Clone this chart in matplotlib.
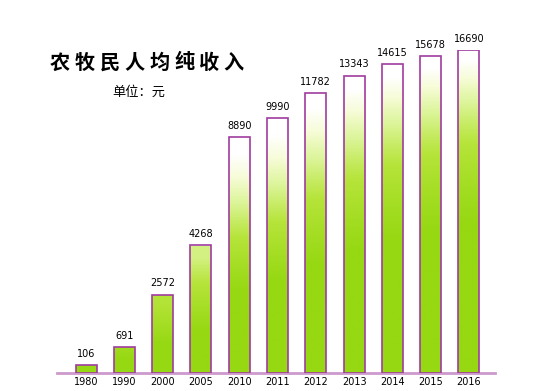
import numpy as np
import matplotlib
matplotlib.use("Agg")
import matplotlib.pyplot as plt
from matplotlib.colors import LinearSegmentedColormap

# 数据
years = ["1980", "1990", "2000", "2005", "2010", "2011", "2012", "2013", "2014", "2015", "2016"]
income = [106, 691, 2572, 4268, 8890, 9990, 11782, 13343, 14615, 15678, 16690]
title = "农牧民人均纯收入"
unit = "单位：元"

plt.rcParams['font.family'] = ['Noto Sans CJK SC', 'DejaVu Sans']

W, H = 553, 391
fig = plt.figure(figsize=(W / 100, H / 100), dpi=100)
ax = fig.add_axes([57 / W, (H - 373) / H, (495 - 57) / W, 323 / H])


# 原图柱高不是线性的（手工画的），用一个平滑的压缩刻度来近似
def fwd(v):
    v = np.clip(np.asarray(v, dtype=float), 0, None)
    return 1 - np.exp(-(v / 8500.0) ** 1.3) + 0.04 * (1 - np.exp(-v / 150.0))


_grid = np.linspace(0, 60000, 20001)
_fg = fwd(_grid)


def inv(y):
    return np.interp(y, _fg, _grid)


ax.set_yscale('function', functions=(fwd, inv))

cmap = LinearSegmentedColormap.from_list(
    'g', [(0, '#96d812'), (0.35, '#b6e43a'), (0.6, '#dcf59a'),
          (0.8, '#f7fcd8'), (1, '#ffffff')])

x = np.arange(len(years))
bars = ax.bar(x, income, width=0.55, facecolor='none', edgecolor='#a03ca0',
              linewidth=1.2, zorder=3)

ref = fwd(8890)
t = np.linspace(0, 1, 256)
for b, v in zip(bars, income):
    s = min(1.0, fwd(v) / ref)
    mix = s * np.clip((t - 0.3) / 0.6, 0, 1)
    img = cmap(mix)[:, None, :]
    x0 = b.get_x()
    im = ax.imshow(img, origin='lower', aspect='auto', interpolation='bilinear',
                   extent=(x0, x0 + b.get_width(), 0, v), zorder=2)
    im.set_clip_path(b)
    ax.annotate(str(v), (b.get_x() + b.get_width() / 2, v), xytext=(0, 4.5),
                textcoords='offset points', ha='center', va='bottom',
                fontsize=7, family='DejaVu Sans', color='black')

ax.set_xlim(-0.76, len(years) - 1 + 0.68)
ax.set_ylim(0, max(income))
ax.axhline(0, color='#cc99cc', linewidth=2, zorder=1, clip_on=False)

for sp in ax.spines.values():
    sp.set_visible(False)
ax.set_yticks([])
ax.set_xticks(x)
ax.set_xticklabels(years, fontsize=7, family='DejaVu Sans')
ax.tick_params(axis='x', length=0, pad=3)

# 标题，逐字排开
for i, ch in enumerate(title):
    fig.text((60.3 + i * 24.8) / W, 1 - 62 / H, ch, ha='center', va='center',
             fontsize=14.5, fontweight='heavy')
fig.text(112 / W, 1 - 92 / H, unit, ha='left', va='center', fontsize=9.5)

fig.savefig('out.png', dpi=100)
